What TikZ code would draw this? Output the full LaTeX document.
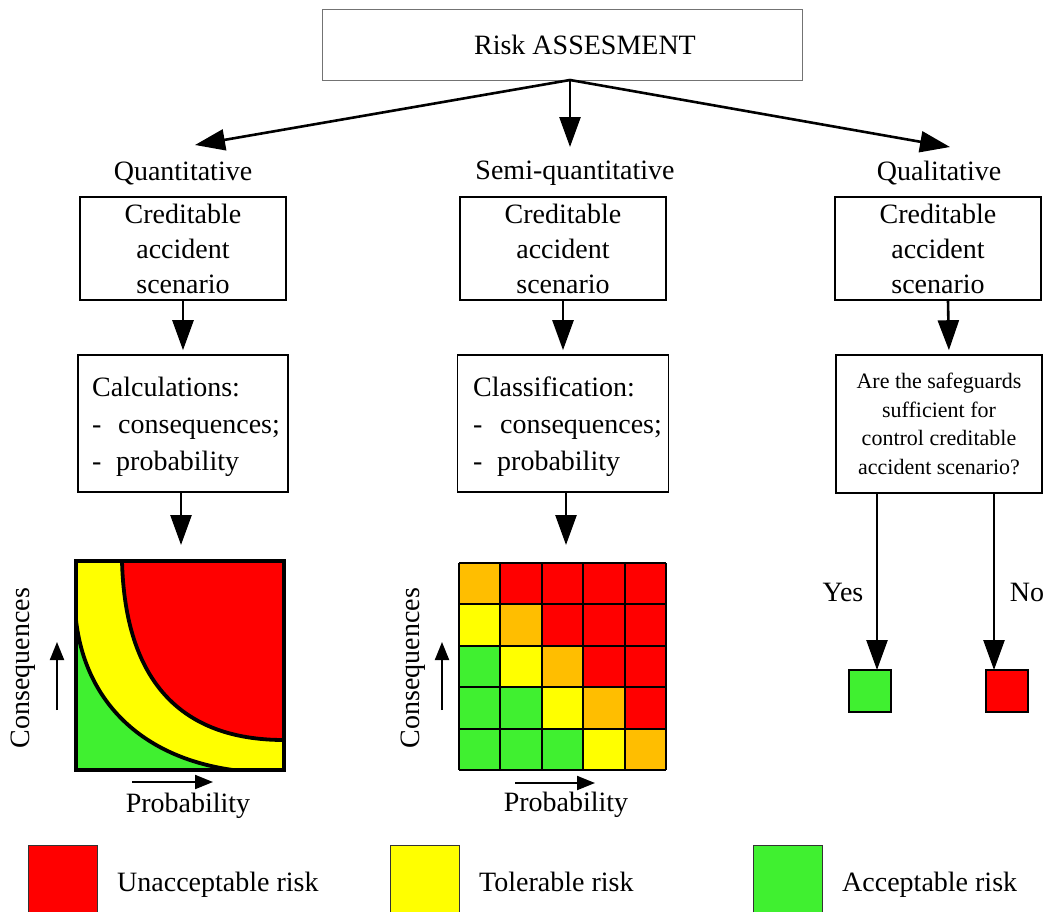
\documentclass[tikz,border=0pt]{standalone}
\usepackage{fontspec}
\setmainfont{Liberation Serif}
\usetikzlibrary{arrows.meta}
\definecolor{rred}{RGB}{255,0,0}
\definecolor{ryel}{RGB}{255,255,0}
\definecolor{rgrn}{RGB}{64,240,48}
\definecolor{rorg}{RGB}{255,190,0}
\begin{document}
\begin{tikzpicture}[x=1pt,y=-1pt,
  box/.style={draw=black,line width=1.6pt,inner sep=0pt},
  txt/.style={font=\fontsize{28}{35}\selectfont,inner sep=0pt},
  qtxt/.style={font=\fontsize{22}{28.5}\selectfont,inner sep=0pt},
  conn/.style={line width=2.6pt,-{Triangle[length=30pt,width=21pt]}},
  smallarrow/.style={line width=2pt,-{Triangle[length=18pt,width=14pt]}},
  gridl/.style={line width=2pt,black},
  legbox/.style={draw=black!80,line width=1pt,inner sep=0pt,minimum width=69pt,minimum height=72pt}
]
\clip (0,0) rectangle (1047,911);
\fill[white] (0,0) rectangle (1047,911);

% top box
\node[draw=black!55,line width=1pt,minimum width=480pt,minimum height=71pt,txt] (top) at (562,44.5) {\hspace*{46pt}Risk ASSESMENT};
\coordinate (topo) at (570,80);
\coordinate (e1) at (195,145);
\coordinate (e2) at (570,147);
\coordinate (e3) at (950,147);
\draw[conn] (topo) -- (e1);
\draw[conn] (topo) -- (e2);
\draw[conn] (topo) -- (e3);

% column labels
\node[txt] (lq) at (183,173) {Quantitative};
\node[txt] (ls) at (575,173) {Semi-quantitative};
\node[txt] (ll) at (939,173) {Qualitative};

% creditable boxes
\node[box,txt,align=center,minimum width=206pt,minimum height=103pt] (cb1) at (183,248.5) {Creditable\\accident\\scenario};
\node[box,txt,align=center,minimum width=206pt,minimum height=103pt] (cb2) at (563,248.5) {Creditable\\accident\\scenario};
\node[box,txt,align=center,minimum width=206pt,minimum height=103pt] (cb3) at (938,248.5) {Creditable\\accident\\scenario};

% second row boxes
\node[box,minimum width=210pt,minimum height=137pt] (calc) at (183,423.5) {};
\node[txt,anchor=west,align=left] (calct) at (92,427) {Calculations:\\[2pt]\makebox[26pt][l]{-}consequences;\\[2pt]\makebox[24pt][l]{-}probability};
\node[box,minimum width=211pt,minimum height=137pt] (clas) at (563,423.5) {};
\node[txt,anchor=west,align=left] (clast) at (473,427) {Classification:\\[2pt]\makebox[27pt][l]{-}consequences;\\[2pt]\makebox[24pt][l]{-}probability};
\node[box,qtxt,align=center,minimum width=206pt,minimum height=138pt] (q) at (939,424) {Are the safeguards\\sufficient for\\control creditable\\accident scenario?};

\draw[conn,shorten >=4pt] (cb1.south) -- (calc.north);
\draw[conn,shorten >=4pt] (cb2.south) -- (clas.north);
\draw[conn,shorten >=4pt] ([xshift=10pt]cb3.south) -- ([xshift=10pt]q.north);

% arrows to charts
\coordinate (c1) at (181,545);
\coordinate (c2) at (566,545);
\draw[conn] (calc.south -| c1) -- (c1);
\draw[conn] (clas.south -| c2) -- (c2);

% quantitative chart
\fill[ryel] (76,561) rectangle (284,770);
\fill[rred] (122,561) -- (284,561) -- (284,740) .. controls (180,740) and (125,680) .. (122,561) -- cycle;
\fill[rgrn] (76,620) -- (76,770) -- (233,770) .. controls (140,757) and (85,700) .. (76,620) -- cycle;
\draw[line width=3.8pt] (284,740) .. controls (180,740) and (125,680) .. (122,561);
\draw[line width=3.8pt] (233,770) .. controls (140,757) and (85,700) .. (76,620);
\draw[line width=4.5pt] (76,561) rectangle (284,770);
\node[txt,rotate=90] (qc) at (23,668) {Consequences};
\node[txt] (qp) at (188,806) {Probability};
\coordinate (qa1) at (57,710);
\coordinate (qa2) at (57,642);
\coordinate (qb1) at (132,782);
\coordinate (qb2) at (213,782);
\draw[smallarrow] (qa1) -- (qa2);
\draw[smallarrow] (qb1) -- (qb2);

% semi-quantitative matrix
\foreach \i/\j/\cl in {0/0/rorg,1/0/rred,2/0/rred,3/0/rred,4/0/rred,
  0/1/ryel,1/1/rorg,2/1/rred,3/1/rred,4/1/rred,
  0/2/rgrn,1/2/ryel,2/2/rorg,3/2/rred,4/2/rred,
  0/3/rgrn,1/3/rgrn,2/3/ryel,3/3/rorg,4/3/rred,
  0/4/rgrn,1/4/rgrn,2/4/rgrn,3/4/ryel,4/4/rorg}
  \fill[\cl] ({459+41.4*\i},{563+41.4*\j}) rectangle ++(41.4,41.4);
\foreach \k in {0,...,5} {
  \draw[gridl] ({459+41.4*\k},563) -- ({459+41.4*\k},770);
  \draw[gridl] (459,{563+41.4*\k}) -- (666,{563+41.4*\k});
}
\node[txt,rotate=90] (sc) at (413,668) {Consequences};
\node[txt] (sp) at (566,805) {Probability};
\coordinate (sa1) at (442,710);
\coordinate (sa2) at (442,642);
\coordinate (sb1) at (515,783);
\coordinate (sb2) at (595,783);
\draw[smallarrow] (sa1) -- (sa2);
\draw[smallarrow] (sb1) -- (sb2);

% qualitative outcome
\node[draw=black,line width=1.4pt,fill=rgrn,minimum width=42pt,minimum height=42pt,inner sep=0pt] (yes) at (870,691) {};
\node[draw=black,line width=1.4pt,fill=rred,minimum width=42pt,minimum height=42pt,inner sep=0pt] (no) at (1007,691) {};
\coordinate (yt) at (877,670);
\coordinate (nt) at (994,670);
\draw[conn] (q.south -| yt) -- (yt);
\draw[conn] (q.south -| nt) -- (nt);
\node[txt] (ly) at (843,592) {Yes};
\node[txt] (ln) at (1027,592) {No};

% legend
\node[legbox,fill=rred] (lg1) at (63,881) {};
\node[legbox,fill=ryel] (lg2) at (425,881) {};
\node[legbox,fill=rgrn] (lg3) at (787.5,881) {};
\node[txt,anchor=base west] (lt1) at (117,891) {Unacceptable risk};
\node[txt,anchor=base west] (lt2) at (479,891) {Tolerable risk};
\node[txt,anchor=base west] (lt3) at (842,891) {Acceptable risk};
\end{tikzpicture}
\end{document}
